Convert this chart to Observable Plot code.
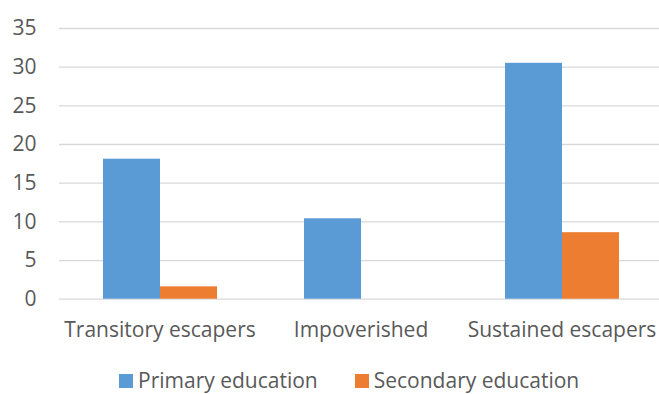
<!DOCTYPE html>
<html>
<head>
<meta charset="utf-8">
<script src="https://cdn.jsdelivr.net/npm/d3@7"></script>
<script src="https://cdn.jsdelivr.net/npm/@observablehq/plot@0.6"></script>
<style>
  html, body { margin: 0; padding: 0; background: #fff; }
  #wrap { position: relative; width: 659px; height: 394px; overflow: hidden; font-family: "Open Sans", sans-serif; color: #595959; }
  #legend { position: absolute; left: 119px; top: 368px; display: flex; align-items: center; font-size: 21px; line-height: 25px; white-space: nowrap; }
  .item { display: flex; align-items: center; margin-right: 37px; }
  .swatch { width: 14px; height: 14px; margin-right: 5px; }
</style>
</head>
<body>
<div id="wrap"></div>
<script>
// Share of households (%) by education level, per poverty trajectory
const categories = ["Transitory escapers", "Impoverished", "Sustained escapers"];
const seriesNames = ["Primary education", "Secondary education"];
const primary = [18.1, 10.4, 30.5];
const secondary = [1.6, 0, 8.6];
const yTicks = [0, 5, 10, 15, 20, 25, 30, 35];
const colors = ["#5b9bd5", "#ed7d31"];

const rows = categories.flatMap((c, i) => [
  {category: c, series: seriesNames[0], value: primary[i]},
  {category: c, series: seriesNames[1], value: secondary[i]}
]);

const chart = Plot.plot({
  width: 659,
  height: 350,
  marginLeft: 58,
  marginRight: 0,
  marginTop: 28,
  marginBottom: 51.3,
  style: {fontFamily: "Open Sans, sans-serif", fontSize: "21px", color: "#595959", background: "#fff"},
  fx: {domain: categories, range: [58, 663.5], paddingInner: 0, paddingOuter: 0, label: null},
  x: {domain: seriesNames, paddingInner: 0, paddingOuter: 0.74, axis: null},
  y: {domain: [0, 35], label: null},
  color: {domain: seriesNames, range: colors},
  marks: [
    Plot.ruleY(yTicks, {stroke: "#d9d9d9", strokeWidth: 1.3}),
    Plot.barY(rows, {fx: "category", x: "series", y: "value", fill: "series"}),
    Plot.axisY({ticks: yTicks, tickSize: 0, tickPadding: 23, label: null, fill: "#595959", fontSize: 21}),
    Plot.axisFx({anchor: "bottom", tickSize: 0, tickPadding: 23, label: null, fill: "#595959", fontSize: 21})
  ]
});

const wrap = document.getElementById("wrap");
wrap.appendChild(chart);

const legend = document.createElement("div");
legend.id = "legend";
seriesNames.forEach((name, i) => {
  const item = document.createElement("div");
  item.className = "item";
  const sw = document.createElement("span");
  sw.className = "swatch";
  sw.style.background = colors[i];
  const label = document.createElement("span");
  label.textContent = name;
  item.appendChild(sw);
  item.appendChild(label);
  legend.appendChild(item);
});
wrap.appendChild(legend);
</script>
</body>
</html>
